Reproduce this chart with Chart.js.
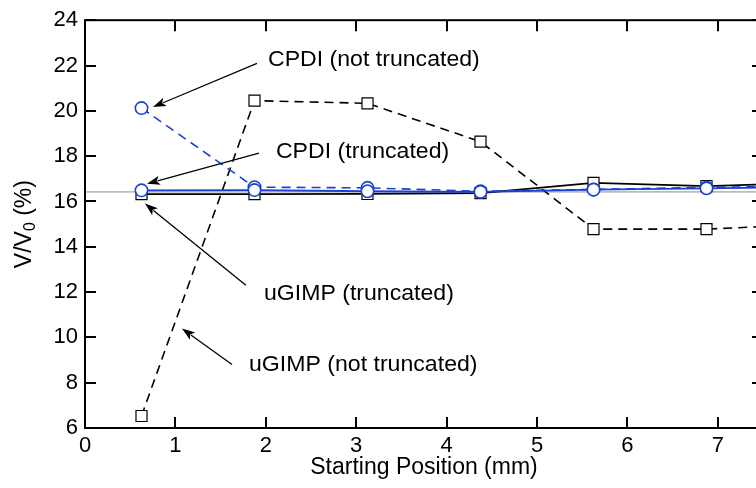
<!DOCTYPE html>
<html><head><meta charset="utf-8">
<script src="https://cdn.jsdelivr.net/npm/chart.js@4.4.0/dist/chart.umd.min.js"></script>
<style>
html,body{margin:0;padding:0;background:#fff;overflow:hidden;}
#wrap{width:756px;height:488px;overflow:hidden;position:relative;}
canvas{display:block;}
</style></head><body>
<div id="wrap"><canvas id="c" width="780" height="488"></canvas></div>
<script>
// ---- data ----
const positions = [0.625, 1.875, 3.125, 4.375, 5.625, 6.875, 8.125];
const uGIMPNotTruncated = [6.53, 20.45, 20.33, 18.64, 14.78, 14.78, 15.0];
const uGIMPTruncated = [16.32, 16.32, 16.33, 16.37, 16.82, 16.68, 16.83];
const cpdiNotTruncated = [20.12, 16.63, 16.6, 16.45, 16.53, 16.62, 16.68];
const cpdiTruncated = [16.49, 16.5, 16.45, 16.42, 16.52, 16.58, 16.64];
const referenceX = [0, 7.5];
const referenceLevel = [16.42, 16.42];
const xTicks = [0, 1, 2, 3, 4, 5, 6, 7];
const yTicks = [6, 8, 10, 12, 14, 16, 18, 20, 22, 24];
const xTitle = 'Starting Position (mm)';

// annotation texts (label anchor and arrow tail/tip in data units)
const annotationLabels = ['CPDI (not truncated)', 'CPDI (truncated)', 'uGIMP (truncated)', 'uGIMP (not truncated)'];
const annotationTextAt = [[2.024, 22.26], [2.112, 18.17], [1.979, 11.91], [1.814, 8.78]];
const annotationArrowFrom = [[1.902, 22.09], [1.924, 18.13], [1.780, 12.30], [1.626, 8.80]];
const annotationArrowTo = [[0.752, 20.17], [0.686, 16.78], [0.663, 15.91], [1.073, 10.39]];

const BLUE = '#1c3fd4';
const FONT = '"Liberation Sans", Arial, Helvetica, sans-serif';

function pts(xs, ys) { return ys.map((y, i) => ({x: xs[i], y: y})); }

const framePlugin = {
  id: 'frame',
  afterDatasetsDraw(chart) {
    const {ctx, chartArea: a, scales: {x, y}} = chart;
    ctx.save();
    ctx.strokeStyle = '#000';
    ctx.lineWidth = 2;
    ctx.strokeRect(a.left, a.top, a.right - a.left, a.bottom - a.top);
    const L = 11;
    ctx.beginPath();
    xTicks.forEach(v => {
      const px = Math.round(x.getPixelForValue(v));
      ctx.moveTo(px, a.bottom); ctx.lineTo(px, a.bottom - L);
      ctx.moveTo(px, a.top); ctx.lineTo(px, a.top + L);
    });
    yTicks.forEach(v => {
      const py = Math.round(y.getPixelForValue(v));
      ctx.moveTo(a.left, py); ctx.lineTo(a.left + L, py);
      ctx.moveTo(a.right, py); ctx.lineTo(a.right - L, py);
    });
    ctx.stroke();
    ctx.restore();
  }
};

const textPlugin = {
  id: 'texts',
  afterDraw(chart) {
    const {ctx, chartArea: a, scales: {x, y}} = chart;
    ctx.save();
    ctx.fillStyle = '#000';
    // x title
    ctx.font = '23px ' + FONT;
    ctx.textAlign = 'center';
    ctx.textBaseline = 'middle';
    ctx.fillText(xTitle, (a.left + a.right) / 2, 468);
    // y title with subscript
    ctx.save();
    ctx.translate(25, (a.top + a.bottom) / 2);
    ctx.rotate(-Math.PI / 2);
    ctx.textAlign = 'left';
    ctx.textBaseline = 'middle';
    const big = '23px ' + FONT, small = '16px ' + FONT;
    ctx.font = big; const w1 = ctx.measureText('V/V').width;
    ctx.font = small; const w2 = ctx.measureText('0').width;
    ctx.font = big; const w3 = ctx.measureText(' (%)').width;
    let cx = -(w1 + w2 + w3) / 2;
    ctx.font = big; ctx.fillText('V/V', cx, 0); cx += w1;
    ctx.font = small; ctx.fillText('0', cx, 6); cx += w2;
    ctx.font = big; ctx.fillText(' (%)', cx, 0);
    ctx.restore();
    // annotations
    ctx.font = '22px ' + FONT;
    ctx.textAlign = 'left';
    ctx.textBaseline = 'middle';
    annotationLabels.forEach((t, i) => {
      const tx = x.getPixelForValue(annotationTextAt[i][0]);
      const ty = y.getPixelForValue(annotationTextAt[i][1]);
      ctx.save();
      ctx.translate(tx, ty);
      ctx.scale(1.05, 1);
      ctx.fillText(t, 0, 0);
      ctx.restore();
      const x0 = x.getPixelForValue(annotationArrowFrom[i][0]);
      const y0 = y.getPixelForValue(annotationArrowFrom[i][1]);
      const x1 = x.getPixelForValue(annotationArrowTo[i][0]);
      const y1 = y.getPixelForValue(annotationArrowTo[i][1]);
      const ang = Math.atan2(y1 - y0, x1 - x0);
      const HL = 13, HW = 4.5;
      ctx.strokeStyle = '#000';
      ctx.lineWidth = 1.3;
      ctx.beginPath();
      ctx.moveTo(x0, y0);
      ctx.lineTo(x1 - Math.cos(ang) * (HL - 2), y1 - Math.sin(ang) * (HL - 2));
      ctx.stroke();
      ctx.beginPath();
      ctx.moveTo(x1, y1);
      ctx.lineTo(x1 - Math.cos(ang) * HL - Math.sin(ang) * HW, y1 - Math.sin(ang) * HL + Math.cos(ang) * HW);
      ctx.lineTo(x1 - Math.cos(ang) * (HL - 3), y1 - Math.sin(ang) * (HL - 3));
      ctx.lineTo(x1 - Math.cos(ang) * HL + Math.sin(ang) * HW, y1 - Math.sin(ang) * HL - Math.cos(ang) * HW);
      ctx.closePath();
      ctx.fillStyle = '#000';
      ctx.fill();
    });
    ctx.restore();
  }
};

new Chart(document.getElementById('c'), {
  type: 'scatter',
  data: {
    datasets: [
      {
        label: 'reference',
        data: pts(referenceX, referenceLevel),
        showLine: true, borderColor: '#8a8a8a', borderWidth: 1,
        pointRadius: 0, order: 10
      },
      {
        label: 'uGIMP (not truncated)',
        data: pts(positions, uGIMPNotTruncated),
        showLine: true, borderColor: '#000', borderWidth: 1.6, borderDash: [9, 6],
        pointStyle: 'rect', pointRadius: 7.8, pointBorderWidth: 1.2,
        pointBorderColor: '#000', pointBackgroundColor: '#fff', order: 4
      },
      {
        label: 'uGIMP (truncated)',
        data: pts(positions, uGIMPTruncated),
        showLine: true, borderColor: '#000', borderWidth: 1.8,
        pointStyle: 'rect', pointRadius: 7.8, pointBorderWidth: 1.2,
        pointBorderColor: '#000', pointBackgroundColor: '#fff', order: 3
      },
      {
        label: 'CPDI (not truncated)',
        data: pts(positions, cpdiNotTruncated),
        showLine: true, borderColor: BLUE, borderWidth: 1.6, borderDash: [9, 6],
        pointStyle: 'circle', pointRadius: 6.2, pointBorderWidth: 1.6,
        pointBorderColor: BLUE, pointBackgroundColor: '#fff', order: 2
      },
      {
        label: 'CPDI (truncated)',
        data: pts(positions, cpdiTruncated),
        showLine: true, borderColor: BLUE, borderWidth: 1.8,
        pointStyle: 'circle', pointRadius: 6.2, pointBorderWidth: 1.6,
        pointBorderColor: BLUE, pointBackgroundColor: '#fff', order: 1
      }
    ]
  },
  options: {
    responsive: false,
    animation: false,
    devicePixelRatio: 1,
    layout: {padding: {left: 0, top: 14, right: 17, bottom: 0}},
    plugins: {legend: {display: false}, tooltip: {enabled: false}, title: {display: false}},
    scales: {
      x: {
        type: 'linear', min: 0, max: 7.5,
        afterBuildTicks: s => { s.ticks = xTicks.map(v => ({value: v})); },
        afterFit: s => { s.height = 60; },
        grid: {display: false, drawTicks: false},
        border: {display: false},
        ticks: {color: '#000', font: {family: FONT, size: 22}, padding: 5, maxRotation: 0, autoSkip: false}
      },
      y: {
        type: 'linear', min: 6, max: 24,
        afterBuildTicks: s => { s.ticks = yTicks.map(v => ({value: v})); },
        afterFit: s => { s.width = 85; },
        grid: {display: false, drawTicks: false},
        border: {display: false},
        ticks: {color: '#000', font: {family: FONT, size: 22}, padding: 7, autoSkip: false}
      }
    }
  },
  plugins: [framePlugin, textPlugin]
});
</script>
</body></html>
